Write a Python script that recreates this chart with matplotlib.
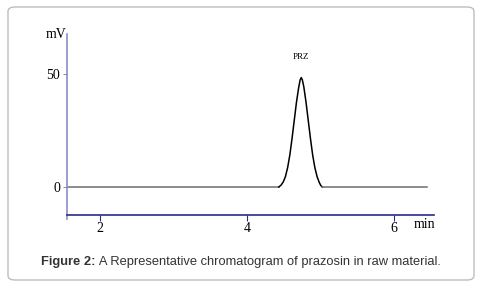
import matplotlib.pyplot as plt
from matplotlib.patches import FancyBboxPatch

# chromatogram (time in min, signal in mV)
base_t = [1.55, 2.6, 3.6, 4.43]
base_mv = [0, 0, 0, 0]
peak_t = [4.43, 4.46, 4.49, 4.52, 4.55, 4.58, 4.61, 4.64, 4.67, 4.70, 4.72, 4.735,
          4.75, 4.77, 4.80, 4.83, 4.86, 4.89, 4.92, 4.95, 4.98, 5.00, 5.02]
peak_mv = [0, 0.8, 2.2, 4.6, 8.6, 14.2, 21.5, 29.5, 37.5, 44, 47.4, 48.4,
           47.4, 44.3, 37.5, 29.5, 21.5, 14.2, 8.6, 4.6, 2.0, 0.7, 0]
tail_t = [5.02, 6.45]
tail_mv = [0, 0]
xticks = [2, 4, 6]
yticks = [0, 50]
peak_name = "PRZ"

fig = plt.figure(figsize=(4.79, 2.88), dpi=100)

# rounded frame around the whole figure
frame = FancyBboxPatch((8 / 479, 8 / 288), 466 / 479, 273 / 288,
                       boxstyle="round,pad=0,rounding_size=0.015",
                       transform=fig.transFigure, fc="none", ec="#bdbdbd", lw=1)
fig.patches.append(frame)

ax = fig.add_axes([67 / 479, 1 - 215 / 288, 367 / 479, 181 / 288])
ax.patch.set_alpha(0)
serif = "Liberation Serif"

ax.plot(base_t, base_mv, color="#6e6e6e", lw=1.1)
ax.plot(peak_t, peak_mv, color="black", lw=1.1)
ax.plot(tail_t, tail_mv, color="#6e6e6e", lw=1.1)

ax.set_xlim(1.55, 6.54)
ax.set_ylim(-12.4, 67.7)
ax.set_xticks(xticks)
ax.set_yticks(yticks)
ax.set_xticklabels([str(v) for v in xticks], fontfamily=serif, fontsize=10)
ax.set_yticklabels([str(v) for v in yticks], fontfamily=serif, fontsize=10)
ax.tick_params(axis="x", length=4, color="#2b2b8f", pad=1)
ax.tick_params(axis="y", length=3, color="#8c8cc8", pad=2)

for s in ["top", "right"]:
    ax.spines[s].set_visible(False)
ax.spines["left"].set_color("#8c8cc8")
ax.spines["left"].set_linewidth(1.2)
ax.spines["left"].set_bounds(-14.2, 67.7)
ax.spines["bottom"].set_color("#2b2b8f")
ax.spines["bottom"].set_linewidth(1.2)

ax.text(4.735, 57.5, peak_name, fontfamily=serif, fontsize=6.5, ha="center", va="center")
fig.text(66 / 479, 1 - 34 / 288, "mV", fontfamily=serif, fontsize=10, ha="right", va="center")
fig.text(424 / 479, 1 - 225 / 288, "min", fontfamily=serif, fontsize=10, ha="center", va="center")

# caption: bold prefix followed by normal text, centred as a whole
cy = 1 - 262 / 288
t1 = fig.text(0, cy, "Figure 2:", fontfamily="Liberation Sans", fontsize=9.3,
              weight="bold", color="#333333", va="center")
t2 = fig.text(0, cy, " A Representative chromatogram of prazosin in raw material.",
              fontfamily="Liberation Sans", fontsize=9.3, color="#333333", va="center")
fig.canvas.draw()
r = fig.canvas.get_renderer()
w1 = t1.get_window_extent(r).width / fig.bbox.width
w2 = t2.get_window_extent(r).width / fig.bbox.width
x0 = 241 / 479 - (w1 + w2) / 2
t1.set_x(x0)
t2.set_x(x0 + w1)

fig.savefig("out.png", dpi=100)
